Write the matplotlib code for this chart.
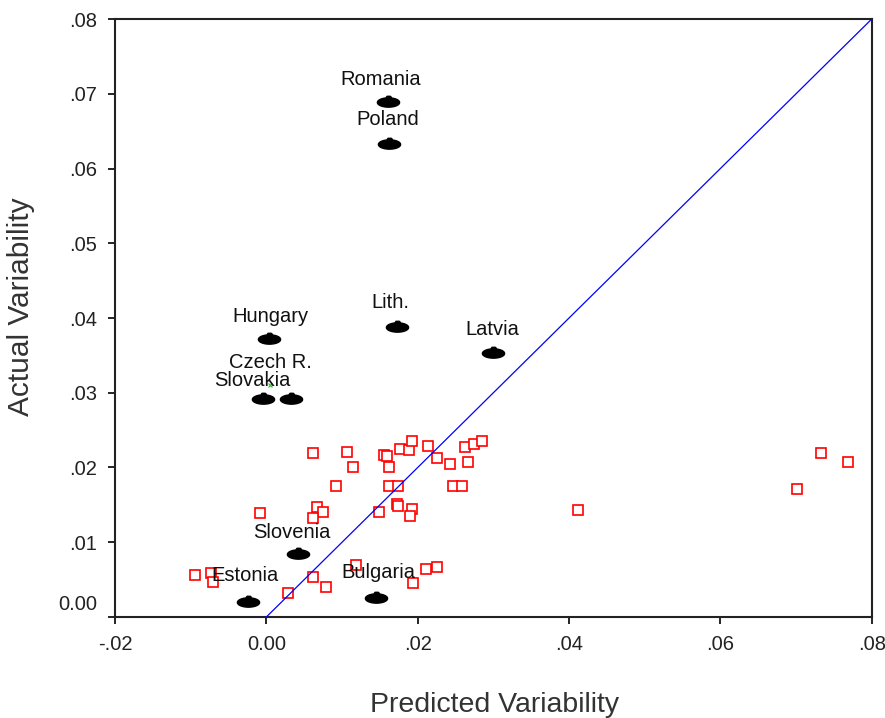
import numpy as np
import matplotlib
matplotlib.use("Agg")
import matplotlib.pyplot as plt
from matplotlib.path import Path
from matplotlib import transforms

plt.rcParams['font.family'] = ['Liberation Sans', 'DejaVu Sans']

# labelled countries (black markers)
countries = ["Romania", "Poland", "Hungary", "Lith.", "Latvia",
             "Czech R.", "Slovakia", "Slovenia", "Estonia", "Bulgaria"]
country_x = [0.0161, 0.0162, 0.0003, 0.0173, 0.0299,
             0.0032, -0.0005, 0.0042, -0.0024, 0.0145]
country_y = [0.0689, 0.0633, 0.0372, 0.0388, 0.0353,
             0.0292, 0.0292, 0.0084, 0.0020, 0.0025]
# label offsets in pixels (dx, dy) from the marker
label_off = [(-8, 22), (-1, 24), (2, 22), (-7, 24), (0, 24),
             (-20, 36), (-10, 18), (-6, 22), (-3, 27), (2, 26)]

# other observations (red squares)
other_x = [0.0062, 0.0107, 0.0115, 0.0156, 0.0159, 0.0162, 0.0177, 0.0189,
           0.0192, 0.0214, 0.0225, 0.0243, 0.0262, 0.0275, 0.0285, 0.0267,
           0.0092, 0.0162, 0.0174, 0.0247, 0.0259, 0.0067, 0.0075, 0.0061,
           0.0172, 0.0174, 0.0149, 0.0193, 0.0190, -0.0009, 0.0412, 0.0733,
           0.0769, 0.0701, -0.0094, -0.0073, -0.0071, 0.0028, 0.0119, 0.0062,
           0.0079, 0.0211, 0.0225, 0.0194]
other_y = [0.0219, 0.0221, 0.0200, 0.0217, 0.0215, 0.0201, 0.0225, 0.0224,
           0.0235, 0.0229, 0.0213, 0.0205, 0.0227, 0.0232, 0.0235, 0.0207,
           0.0175, 0.0175, 0.0175, 0.0175, 0.0175, 0.0147, 0.0141, 0.0132,
           0.0151, 0.0148, 0.0140, 0.0144, 0.0135, 0.0139, 0.0143, 0.0219,
           0.0208, 0.0171, 0.0056, 0.0059, 0.0047, 0.0032, 0.0069, 0.0053,
           0.0040, 0.0064, 0.0067, 0.0045]

xticks = [-0.02, 0.0, 0.02, 0.04, 0.06, 0.08]
xtick_labels = ["-.02", "0.00", ".02", ".04", ".06", ".08"]
yticks = [0.0, 0.01, 0.02, 0.03, 0.04, 0.05, 0.06, 0.07, 0.08]
ytick_labels = ["0.00", ".01", ".02", ".03", ".04", ".05", ".06", ".07", ".08"]

# blob-shaped marker (flat oval with a small bump on top)
t = np.linspace(0, 2 * np.pi, 60)
vx = np.cos(t)
vy = 0.42 * np.sin(t)
vy = vy + np.where((np.abs(vx) < 0.2) & (vy > 0), 0.14, 0.0)
blob = Path(np.column_stack([vx, vy]))

fig = plt.figure(figsize=(8.85, 7.18), dpi=100)
ax = fig.add_axes([0.130, 0.1407, 0.855, 0.8328])

ax.plot(other_x, other_y, 's', ms=6.8, mfc='white', mec='red', mew=1.2, zorder=2)
ax.plot(country_x, country_y, linestyle='none', marker=blob, ms=16,
        color='black', zorder=3)
ax.plot([0.0005], [0.0311], 'x', ms=3, color='#22bb22', mew=0.8, zorder=3)
ax.plot([0, 0.08], [0, 0.08], color='blue', lw=0.9, zorder=4)

for name, x, y, (dx, dy) in zip(countries, country_x, country_y, label_off):
    ax.annotate(name, (x, y), xytext=(dx * 0.72, dy * 0.72),
                textcoords='offset points', ha='center', va='center',
                fontsize=14.5, color='#111111', zorder=5)

ax.set_xlim(-0.02, 0.08)
ax.set_ylim(0, 0.08)
ax.set_xticks(xticks)
ax.set_xticklabels(xtick_labels)
ax.set_yticks(yticks)
ax.set_yticklabels(ytick_labels)
ax.tick_params(direction='out', length=5, width=1.2, labelsize=14.5,
               labelcolor='#222222', pad=8)
for s in ax.spines.values():
    s.set_linewidth(1.5)
    s.set_color('#222222')

# shift the 0.00 label on the y axis upward as in the original
lab0 = ax.get_yticklabels()[0]
lab0.set_transform(lab0.get_transform() +
                   transforms.ScaledTranslation(0, 14 / 100, fig.dpi_scale_trans))

fig.text(0.559, 0.018, "Predicted Variability", ha='center', va='center',
         fontsize=20.5, color='#333333')
fig.text(0.024, 0.573, "Actual Variability", ha='center', va='center',
         rotation=90, fontsize=21.5, color='#333333')

fig.savefig("out.png", dpi=100, facecolor='white')
